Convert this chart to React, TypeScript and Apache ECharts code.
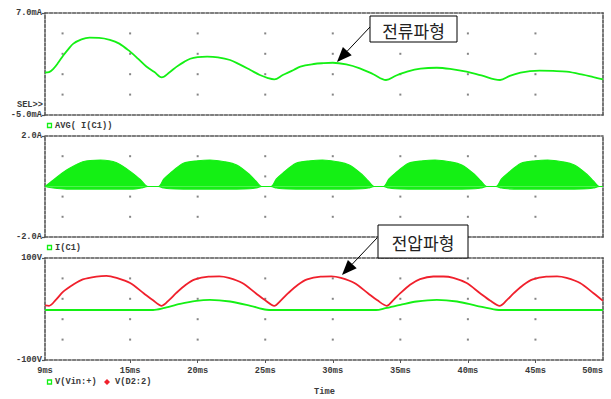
import React, { useEffect, useRef } from "react";
import * as echarts from "echarts";

// ---- time axis (ms) ----
const timeMin = 8.7;
const timeMax = 50;
const timeLabelValues = [8.7, 15, 20, 25, 30, 35, 40, 45, 50];
const timeTickValues = [15, 20, 25, 30, 35, 40, 45];
const dotTimes = [10, 15, 20, 25, 30, 35, 40, 45];

// ---- panel 1: AVG( I(C1)) in mA ----
const avgRange = [-5, 7];
const avgDotRows = [4.6, 2.2, -0.2, -2.6];
const avgTime = [
  8.7, 9.0, 9.3, 9.7, 10.05, 10.4, 10.8, 11.4, 12.0, 12.7, 13.5, 14.2, 15.0, 15.6, 16.2,
  16.8, 17.34, 17.9, 18.45, 19.0, 19.45, 20.0, 20.7, 21.5, 22.4, 23.1, 23.9, 24.6, 25.2,
  25.67, 26.3, 27.1, 27.6, 28.6, 29.3, 30.0, 31.0, 32.0, 33.0, 33.94, 34.7, 35.5, 36.5,
  37.7, 38.8, 39.9, 41.0, 42.38, 43.1, 43.9, 44.6, 45.3, 46.3, 47.3, 48.5, 49.3, 50.0,
];
const avgCurrent = [
  0.0, 0.05, 0.4, 1.2, 2.0, 2.7, 3.4, 3.9, 4.1, 4.08, 3.85, 3.4, 2.45, 1.6, 0.7,
  0.05, -0.57, 0.0, 0.69, 1.25, 1.62, 1.8, 1.86, 1.78, 1.47, 0.95, 0.29, -0.3, -0.65,
  -0.8, -0.3, 0.29, 0.7, 1.0, 1.1, 1.15, 0.95, 0.49, -0.2, -0.88, -0.35, 0.1, 0.45,
  0.56, 0.4, 0.1, -0.35, -0.88, -0.4, -0.02, 0.17, 0.21, 0.18, 0.1, -0.25, -0.55, -0.8,
];

// ---- panel 2: I(C1) in A (upper / lower envelope of the ripple band) ----
const capRange = [-2, 2];
const capDotRows = [1.2, 0.4, -0.4, -1.2];
const capTime = [
  8.7, 9.3, 10.3, 11.5, 12.8, 14.0, 15.2, 15.8, 16.3,
  17.09, 17.5, 17.95, 18.94, 20.0, 20.91, 22.0, 22.89, 23.87, 24.3, 24.74,
  25.42, 25.83, 26.28, 27.27, 28.33, 29.24, 30.33, 31.22, 32.2, 32.63, 33.07,
  33.75, 34.16, 34.61, 35.6, 36.66, 37.57, 38.66, 39.55, 40.53, 40.96, 41.4,
  42.08, 42.49, 42.94, 43.93, 44.99, 45.9, 46.99, 47.88, 48.86, 49.29, 49.73,
  50.0,
];
const capUpper = [
  0, 0.25, 0.65, 0.98, 1.05, 0.94, 0.52, 0.25, 0,
  0, 0.3, 0.52, 0.92, 1.02, 1.05, 0.98, 0.85, 0.46, 0.22, 0,
  0, 0.3, 0.52, 0.92, 1.02, 1.05, 0.98, 0.85, 0.46, 0.22, 0,
  0, 0.3, 0.52, 0.92, 1.02, 1.05, 0.98, 0.85, 0.46, 0.22, 0,
  0, 0.3, 0.52, 0.92, 1.02, 1.05, 0.98, 0.85, 0.46, 0.22, 0,
  0,
];
const capLower = [
  0, -0.06, -0.1, -0.1, -0.1, -0.1, -0.1, -0.06, 0,
  0, -0.06, -0.09, -0.1, -0.1, -0.1, -0.1, -0.1, -0.09, -0.06, 0,
  0, -0.06, -0.09, -0.1, -0.1, -0.1, -0.1, -0.1, -0.09, -0.06, 0,
  0, -0.06, -0.09, -0.1, -0.1, -0.1, -0.1, -0.1, -0.09, -0.06, 0,
  0, -0.06, -0.09, -0.1, -0.1, -0.1, -0.1, -0.1, -0.09, -0.06, 0,
  0,
];

// ---- panel 3: voltages in V ----
const voltRange = [-100, 100];
const voltDotRows = [60, 20, -20, -60];
const vinTime = [8.7, 16.7, 17.45, 18.7, 19.9, 20.9, 22.4, 23.9, 25.1, 25.6, 33.2, 33.9, 35.0, 36.2, 37.7, 39.2, 40.65, 42.1, 42.6, 50.0];
const vinVolt = [-2, -2, 1.5, 10, 16, 18, 14.7, 6.3, -1.5, -2, -2, 1.5, 8, 14.7, 18, 14.7, 6.3, -1.5, -2, -2];
const d2Time = [
  8.7, 9.0, 9.5, 10.05, 10.8, 11.5, 12.5, 13.25, 14.0, 15.0, 16.0, 16.7, 17.34,
  17.9, 18.4, 19.1, 19.8, 20.8, 21.6, 22.3, 23.3, 24.3, 25.0, 25.67,
  26.2, 26.7, 27.4, 28.1, 29.1, 29.9, 30.6, 31.6, 32.6, 33.3, 34.0,
  34.5, 35.0, 35.72, 36.46, 37.44, 38.18, 38.92, 39.91, 40.9, 41.64, 42.35,
  42.9, 43.4, 44.1, 44.8, 45.8, 46.6, 47.3, 48.3, 49.3, 50.0,
];
const d2Volt = [
  7, 6.3, 18, 34, 48, 58, 63.5, 65, 61, 51, 31, 17, 6.3,
  18, 31, 47, 58, 63.5, 64, 61, 51, 31, 17, 6.3,
  18, 31, 47, 58, 63.5, 64, 61, 51, 31, 17, 6.3,
  18, 31, 47.5, 58.6, 63.7, 63.7, 61, 50.8, 31, 16.7, 6.3,
  18, 31, 47, 58, 63.5, 64, 61, 51, 31, 16,
];

const GREEN = "#14f014";
const RED = "#f0202c";
const FRAME = "#555";
const INK = "#3a3a3a";
const MONO = '"Liberation Mono", "DejaVu Sans Mono", monospace';
const KOR = '"Noto Sans CJK KR", "Noto Sans CJK SC", sans-serif';

const zip = (xs: number[], ys: number[]) => xs.map((x, i) => [x, ys[i]]);
const dotGrid = (rows: number[]) => dotTimes.flatMap((t) => rows.map((r) => [t, r]));

const dashed = { color: FRAME, width: 1.6, type: [3, 1.6] as number[] };
const labelFont = { color: INK, fontFamily: MONO, fontSize: 8.7, fontWeight: "bold" as const };

function xAxesFor(gridIndex: number, withLabels: boolean) {
  return [
    {
      gridIndex,
      type: "value",
      min: timeMin,
      max: timeMax,
      position: "bottom",
      axisLine: { show: true, onZero: false, lineStyle: dashed },
      axisTick: withLabels
        ? { show: true, customValues: timeTickValues, length: 3, lineStyle: { color: FRAME, width: 1 } }
        : { show: false },
      splitLine: { show: false },
      axisLabel: withLabels
        ? {
            show: true,
            customValues: timeLabelValues,
            formatter: (v: number) => `${Math.round(v)}ms`,
            margin: 6,
            alignMinLabel: "center",
            alignMaxLabel: "right",
            ...labelFont,
          }
        : { show: false },
    },
    {
      gridIndex,
      type: "value",
      min: timeMin,
      max: timeMax,
      position: "top",
      axisLine: { show: true, onZero: false, lineStyle: dashed },
      axisTick: { show: false },
      splitLine: { show: false },
      axisLabel: { show: false },
    },
  ];
}

function yAxesFor(gridIndex: number, range: number[], fmt: (v: number) => string) {
  return [
    {
      gridIndex,
      type: "value",
      min: range[0],
      max: range[1],
      position: "left",
      axisLine: { show: true, onZero: false, lineStyle: dashed },
      axisTick: { show: true, customValues: range, length: 3, lineStyle: { color: FRAME, width: 1.2 } },
      splitLine: { show: false },
      axisLabel: { show: true, customValues: range, formatter: fmt, margin: 3, ...labelFont },
    },
    {
      gridIndex,
      type: "value",
      min: range[0],
      max: range[1],
      position: "right",
      axisLine: { show: true, onZero: false, lineStyle: dashed },
      axisTick: { show: false },
      splitLine: { show: false },
      axisLabel: { show: false },
    },
  ];
}

function dotSeries(axisIndex: number, rows: number[]) {
  return {
    type: "scatter",
    xAxisIndex: axisIndex,
    yAxisIndex: axisIndex,
    data: dotGrid(rows),
    symbol: "rect",
    symbolSize: 2,
    itemStyle: { color: "#666" },
    silent: true,
    z: 1,
  };
}

function monoText(text: string, x: number, y: number, align = "left") {
  return {
    type: "text",
    x,
    y,
    z: 100,
    style: { text, fill: INK, font: `bold 8.7px ${MONO}`, textAlign: align, textVerticalAlign: "middle" },
  };
}

function callout(text: string, box: number[], tail: number[], tip: number[], base: number[], c1: number[], c2: number[]) {
  return [
    {
      type: "line",
      z: 100,
      shape: { x1: tail[0], y1: tail[1], x2: base[0], y2: base[1] },
      style: { stroke: "#000", lineWidth: 1 },
    },
    {
      type: "polygon",
      z: 100,
      shape: { points: [tip, c1, c2] },
      style: { fill: "#000" },
    },
    {
      type: "rect",
      z: 100,
      shape: { x: box[0], y: box[1], width: box[2], height: box[3] },
      style: { fill: "#fff", stroke: "#000", lineWidth: 1 },
    },
    {
      type: "text",
      z: 101,
      x: box[0] + box[2] / 2,
      y: box[1] + box[3] / 2 + 1,
      style: { text, fill: "#222", font: `17px ${KOR}`, textAlign: "center", textVerticalAlign: "middle" },
    },
  ];
}

export default function App() {
  const ref = useRef<HTMLDivElement>(null);

  useEffect(() => {
    if (!ref.current) return;
    const chart = echarts.init(ref.current, undefined, { renderer: "svg" });

    const option = {
      animation: false,
      backgroundColor: "#fff",
      grid: [
        { left: 45, right: 8, top: 13, height: 102, outerBoundsMode: "none" },
        { left: 45, right: 8, top: 136, height: 101, outerBoundsMode: "none" },
        { left: 45, right: 8, top: 258, height: 102, outerBoundsMode: "none" },
      ],
      xAxis: [...xAxesFor(0, false), ...xAxesFor(1, false), ...xAxesFor(2, true)],
      yAxis: [
        ...yAxesFor(0, avgRange, (v: number) => `${v.toFixed(1)}mA`),
        ...yAxesFor(1, capRange, (v: number) => `${v.toFixed(1)}A`),
        ...yAxesFor(2, voltRange, (v: number) => `${v}V`),
      ],
      series: [
        dotSeries(0, avgDotRows),
        {
          name: "AVG( I(C1))",
          type: "line",
          xAxisIndex: 0,
          yAxisIndex: 0,
          data: zip(avgTime, avgCurrent),
          showSymbol: false,
          smooth: 0.35,
          lineStyle: { color: GREEN, width: 1.8 },
          z: 3,
        },
        dotSeries(2, capDotRows),
        {
          name: "I(C1)",
          type: "line",
          xAxisIndex: 2,
          yAxisIndex: 2,
          data: zip(capTime, capUpper),
          showSymbol: false,
          smooth: 0.3,
          lineStyle: { color: GREEN, width: 1.2 },
          areaStyle: { color: GREEN, opacity: 1, origin: 0 },
          z: 3,
        },
        {
          name: "I(C1) lower",
          type: "line",
          xAxisIndex: 2,
          yAxisIndex: 2,
          data: zip(capTime, capLower),
          showSymbol: false,
          smooth: 0.3,
          lineStyle: { color: GREEN, width: 1.2 },
          areaStyle: { color: GREEN, opacity: 1, origin: 0 },
          z: 3,
        },
        dotSeries(4, voltDotRows),
        {
          name: "V(Vin:+)",
          type: "line",
          xAxisIndex: 4,
          yAxisIndex: 4,
          data: zip(vinTime, vinVolt),
          showSymbol: false,
          smooth: 0.3,
          lineStyle: { color: GREEN, width: 1.8 },
          z: 3,
        },
        {
          name: "V(D2:2)",
          type: "line",
          xAxisIndex: 4,
          yAxisIndex: 4,
          data: zip(d2Time, d2Volt),
          showSymbol: false,
          smooth: 0.3,
          lineStyle: { color: RED, width: 1.8 },
          z: 4,
        },
      ],
      graphic: [
        monoText("SEL>>", 43, 105, "right"),
        {
          type: "rect",
          z: 100,
          shape: { x: 47.5, y: 123.5, width: 4, height: 4 },
          style: { fill: "none", stroke: GREEN, lineWidth: 1.3 },
        },
        monoText("AVG( I(C1))", 55, 126),
        {
          type: "rect",
          z: 100,
          shape: { x: 47.5, y: 245.5, width: 4, height: 4 },
          style: { fill: "none", stroke: GREEN, lineWidth: 1.3 },
        },
        monoText("I(C1)", 55, 248),
        {
          type: "rect",
          z: 100,
          shape: { x: 47.5, y: 380, width: 4, height: 4 },
          style: { fill: "none", stroke: GREEN, lineWidth: 1.3 },
        },
        monoText("V(Vin:+)", 55, 382),
        {
          type: "polygon",
          z: 100,
          shape: { points: [[107, 379], [110, 382], [107, 385], [104, 382]] },
          style: { fill: RED },
        },
        monoText("V(D2:2)", 115, 382),
        monoText("Time", 324.5, 392, "center"),
        ...callout("전류파형", [370, 16, 87, 26], [370, 27], [337, 62], [347.3, 51.1], [351.7, 55.2], [342.9, 47.0]),
        ...callout("전압파형", [378, 225, 90, 33], [377, 238], [342, 275], [352.3, 264.1], [356.7, 268.2], [347.9, 260.0]),
      ],
    };

    chart.setOption(option as any);
    return () => chart.dispose();
  }, []);

  return (
    <div
      ref={ref}
      style={{ position: "fixed", left: 0, top: 0, width: 611, height: 399, background: "#fff" }}
    />
  );
}
